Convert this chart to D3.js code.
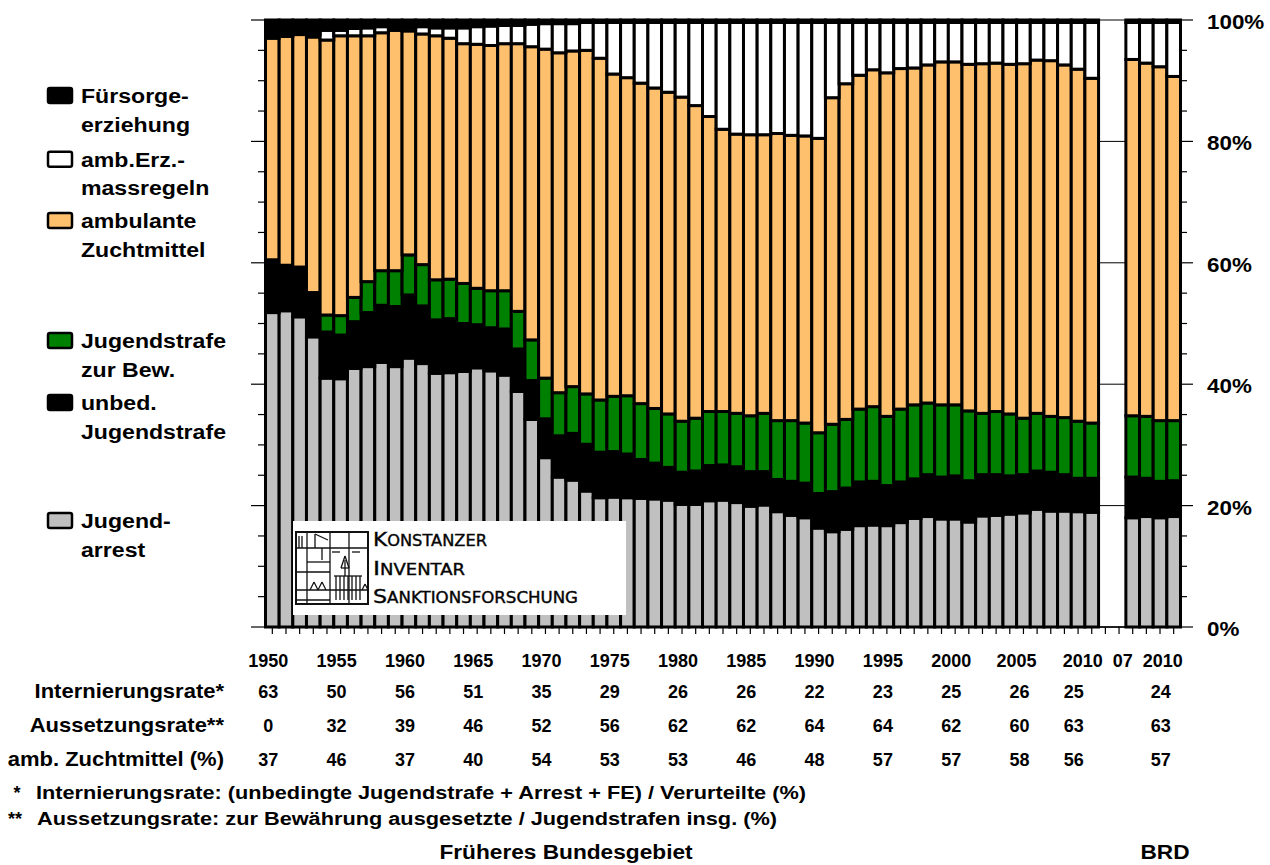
<!DOCTYPE html>
<html><head><meta charset="utf-8">
<script src="https://cdn.jsdelivr.net/npm/d3@7"></script>
<style>
body{margin:0;background:#fff}
svg{display:block}
text{font-family:"Liberation Sans",Arial,Helvetica,sans-serif;font-weight:bold;fill:#000}
</style>
</head><body>
<svg id="c" width="1270" height="865"></svg>
<script>
// ---------- DATA ----------
const yearsFB = ["1950","1951","1952","1953","1954","1955","1956","1957","1958","1959",
  "1960","1961","1962","1963","1964","1965","1966","1967","1968","1969",
  "1970","1971","1972","1973","1974","1975","1976","1977","1978","1979",
  "1980","1981","1982","1983","1984","1985","1986","1987","1988","1989",
  "1990","1991","1992","1993","1994","1995","1996","1997","1998","1999",
  "2000","2001","2002","2003","2004","2005","2006","2007","2008","2009","2010"];
const yearsBRD = ["2007","2008","2009","2010"];

// shares in % (bottom to top)
const jugendarrest = [51.8,52.1,51.1,47.8,41.0,40.9,42.6,42.9,43.6,42.9,
  44.3,43.4,41.8,41.9,42.1,42.7,42.2,41.5,38.8,34.2,
  27.9,24.7,24.2,22.4,21.3,21.4,21.3,21.2,21.1,20.9,
  20.2,20.2,20.8,20.9,20.5,19.9,20.1,19.0,18.4,18.0,
  16.3,15.7,16.1,16.7,16.8,16.7,17.2,17.9,18.2,17.8,
  17.8,17.3,18.3,18.4,18.6,18.8,19.4,19.1,19.1,19.0,18.9,
  18.0,18.2,18.0,18.2];
const unbedJugendstrafe = [8.7,7.5,8.2,7.3,7.6,7.2,7.7,8.9,9.4,9.9,
  10.4,9.5,8.8,8.9,7.9,7.1,7.1,7.6,7.0,6.4,
  6.4,6.8,7.7,7.7,7.5,7.5,7.2,6.4,5.9,5.4,
  5.3,5.5,5.8,5.8,5.9,5.7,5.5,5.3,5.6,5.7,
  5.7,6.6,6.8,7.2,7.2,6.6,6.7,6.5,6.9,6.9,
  7.1,6.8,6.8,6.7,6.3,6.3,6.3,6.4,6.0,5.5,5.6,
  6.7,6.3,6.0,5.9];
const jugendstrafeBew = [0,0,0,0,2.8,3.2,4.0,5.1,5.7,5.9,
  6.6,6.8,6.6,6.5,6.6,6.0,6.1,6.3,6.2,6.7,
  6.7,7.1,7.7,8.3,8.6,9.1,9.6,9.2,9.0,8.8,
  8.4,8.7,8.9,8.8,8.8,9.2,9.6,9.7,10.0,9.9,
  10.0,11.1,11.3,12.0,12.3,11.4,12.0,12.2,11.8,11.9,
  11.7,11.5,10.1,10.4,10.2,9.3,9.5,9.2,9.4,9.4,9.1,
  10.1,10.2,10.0,9.9];
const ambZuchtmittel = [36.5,37.7,38.3,42.1,45.3,46.1,43.1,40.5,39.2,39.6,
  36.9,38.0,40.2,39.7,39.5,40.2,40.4,40.7,44.1,48.3,
  54.2,56.0,55.3,56.6,56.3,53.1,52.4,52.8,52.8,53.0,
  53.4,51.5,48.6,46.5,46.0,46.3,45.9,47.3,47.0,47.3,
  48.5,53.8,55.3,55.0,55.5,56.6,56.1,55.5,55.7,56.5,
  56.5,57.1,57.6,57.4,57.6,58.4,58.2,58.6,58.1,58.0,56.8,
  58.7,58.2,58.3,56.7];
const ambErzMassregeln = [0,0,0,0.4,1.6,0.9,1.2,1.3,1.0,0.5,
  0.5,1.2,1.3,1.7,2.6,2.9,3.2,3.0,3.0,3.7,
  4.2,4.8,4.5,4.6,5.9,8.5,9.1,10.0,10.8,11.5,
  12.3,13.7,15.5,17.6,18.4,18.5,18.5,18.3,18.6,18.7,
  19.1,12.4,10.1,8.7,7.8,8.3,7.6,7.5,7.0,6.5,
  6.5,6.9,6.8,6.7,6.9,6.8,6.2,6.3,7.0,7.7,9.2,
  6.1,6.7,7.3,8.9];
const fuersorgeerziehung = [3.0,2.7,2.4,2.4,1.7,1.7,1.4,1.3,1.1,1.2,
  1.3,1.1,1.3,1.3,1.3,1.1,1.0,0.9,0.9,0.7,
  0.6,0.6,0.6,0.4,0.4,0.4,0.4,0.4,0.4,0.4,
  0.4,0.4,0.4,0.4,0.4,0.4,0.4,0.4,0.4,0.4,
  0.4,0.4,0.4,0.4,0.4,0.4,0.4,0.4,0.4,0.4,
  0.4,0.4,0.4,0.4,0.4,0.4,0.4,0.4,0.4,0.4,0.4,
  0.4,0.4,0.4,0.4];

const seriesNames = ["Jugend-\narrest","unbed.\nJugendstrafe","Jugendstrafe\nzur Bew.","ambulante\nZuchtmittel","amb.Erz.-\nmassregeln","Fürsorge-\nerziehung"];
const seriesColors = ["#C0C0C0","#000000","#008000","#FFC06E","#FFFFFF","#000000"];

// table below the chart
const tableYears = ["1950","1955","1960","1965","1970","1975","1980","1985","1990","1995","2000","2005","2010","BRD2010"];
const internierungsrate = [63,50,56,51,35,29,26,26,22,23,25,26,25,24];
const aussetzungsrate = [0,32,39,46,52,56,62,62,64,64,62,60,63,63];
const ambZuchtRate = [37,46,37,40,54,53,53,46,48,57,57,58,56,57];
const rowLabels = ["Internierungsrate*","Aussetzungsrate**","amb. Zuchtmittel (%)"];
const yearLabelKeys = ["1950","1955","1960","1965","1970","1975","1980","1985","1990","1995","2000","2005","2010","BRD2007","BRD2010"];
const yearLabelText = ["1950","1955","1960","1965","1970","1975","1980","1985","1990","1995","2000","2005","2010","07","2010"];
const yTicks = [0,20,40,60,80,100];

// ---------- BUILD ----------
const keys = ["arrest","unbed","bew","amb","erz","fe"];
const cols = [jugendarrest,unbedJugendstrafe,jugendstrafeBew,ambZuchtmittel,ambErzMassregeln,fuersorgeerziehung];
const catKeys = yearsFB.concat(yearsBRD.map(y=>"BRD"+y));
const rows = catKeys.map((k,i)=>{const o={key:k};keys.forEach((s,j)=>o[s]=cols[j][i]);return o;});
const domain = yearsFB.concat(["gap1","gap2"], yearsBRD.map(y=>"BRD"+y));

const svg = d3.select("#c");
const x = d3.scaleBand().domain(domain).range([265.5,1180.5]).padding(0);
const y = d3.scaleLinear().domain([0,100]).range([627,20]);

function T(parent,px,py,s,size,anchor,sx){
  return parent.append("text")
    .attr("transform",`translate(${px},${py}) scale(${sx==null?1.1:sx},1)`)
    .attr("font-size",size).attr("text-anchor",anchor||"start").text(s);
}

// gridlines (visible only in the gap)
svg.append("g").selectAll("line").data(yTicks).join("line")
  .attr("x1",265.5).attr("x2",1180.5).attr("y1",d=>y(d)).attr("y2",d=>y(d))
  .attr("stroke","#000").attr("stroke-width",1);

// bars
const stacked = d3.stack().keys(keys)(rows);
svg.append("g").selectAll("g").data(stacked).join("g")
  .attr("fill",(d,i)=>seriesColors[i])
  .selectAll("rect").data(d=>d).join("rect")
  .attr("x",d=>x(d.data.key)).attr("width",x.bandwidth())
  .attr("y",d=>y(d[1])).attr("height",d=>Math.max(0,y(d[0])-y(d[1])))
  .attr("stroke","#000").attr("stroke-width",3);

// axis lines
svg.append("line").attr("x1",1180.5).attr("x2",1180.5).attr("y1",20).attr("y2",627).attr("stroke","#000").attr("stroke-width",2);
svg.append("line").attr("x1",265.5).attr("x2",1180.5).attr("y1",627).attr("y2",627).attr("stroke","#000").attr("stroke-width",1.5);

// ticks
const minor = d3.range(0,101,5);
const tk = svg.append("g").attr("stroke","#000").attr("stroke-width",1.2);
tk.selectAll(".l").data(minor).join("line").attr("class","l")
  .attr("x1",d=>d%20===0?251:258).attr("x2",265).attr("y1",d=>y(d)).attr("y2",d=>y(d));
tk.selectAll(".r").data(minor).join("line").attr("class","r")
  .attr("x1",1181).attr("x2",d=>d%20===0?1193:1187).attr("y1",d=>y(d)).attr("y2",d=>y(d));
tk.selectAll(".b").data(domain).join("line").attr("class","b")
  .attr("x1",d=>x(d)+x.bandwidth()/2).attr("x2",d=>x(d)+x.bandwidth()/2).attr("y1",627).attr("y2",634);

// y labels
yTicks.forEach(v=>T(svg,1207,y(v)+9,v+"%",20,"start",1.12));

// year labels (slight leftward drift toward the right end, as in the original)
const labShift = {"2005":-3,"2010":-5,"BRD2007":-6,"BRD2010":-7};
const lab = d=>x(d)+x.bandwidth()/2-4+(labShift[d]||0);
yearLabelKeys.forEach((k,i)=>T(svg,lab(k),667,yearLabelText[i],18,"middle",1.0));

// table
const valShift = {"2005":3,"2010":-9,"BRD2010":-2};
const rowY = [697.5,731.5,765.5];
rowLabels.forEach((s,i)=>T(svg,224,rowY[i],s,20,"end",1.1));
[internierungsrate,aussetzungsrate,ambZuchtRate].forEach((arr,r)=>{
  arr.forEach((v,i)=>{
    const k = tableYears[i];
    T(svg,lab(k)+(valShift[k]||0),rowY[r],String(v),18,"middle",1.0);
  });
});

// footnotes
T(svg,17,799,"*",18,"middle",1.0);
T(svg,15,825,"**",18,"middle",1.0);
svg.append("text").attr("x",36).attr("y",799).attr("font-size",18)
  .attr("textLength",770).attr("lengthAdjust","spacingAndGlyphs")
  .text("Internierungsrate: (unbedingte Jugendstrafe + Arrest + FE) / Verurteilte (%)");
svg.append("text").attr("x",37).attr("y",825).attr("font-size",18)
  .attr("textLength",740).attr("lengthAdjust","spacingAndGlyphs")
  .text("Aussetzungsrate: zur Bewährung ausgesetzte / Jugendstrafen insg. (%)");

// bottom titles
T(svg,566,859,"Früheres Bundesgebiet",21,"middle",1.08);
T(svg,1165,859,"BRD",21,"middle",1.08);

// legend
const legTop = [513,395,333,213,151.7,88];
seriesNames.forEach((s,i)=>{
  const top = legTop[i];
  svg.append("rect").attr("x",48).attr("y",top).attr("width",24).attr("height",15).attr("rx",2)
    .attr("fill",seriesColors[i]).attr("stroke","#000").attr("stroke-width",2.5);
  s.split("\n").forEach((line,j)=>T(svg,81,top+15+j*28.7,line,21,"start",1.1));
});

// logo box
const lg = svg.append("g");
lg.append("rect").attr("x",293).attr("y",521).attr("width",333).attr("height",94).attr("fill","#fff");
const ls = lg.append("g").attr("stroke","#111").attr("fill","none").attr("stroke-width",1.3);
ls.append("rect").attr("x",296).attr("y",532).attr("width",72).attr("height",72).attr("stroke-width",2);
[[296,548,368,548],[296,590,368,590],[307,532,307,604],[330,532,330,604],[349,532,349,604],[296,572,330,572],
 [299,536,299,548],[302,536,302,548],[315,534,315,548],[315,534,328,540],[322,548,322,560],[307,562,330,562],
 [336,600,336,576],[340,600,340,576],[344,600,344,576],[348,600,348,576],[352,600,352,576],[356,600,356,576],[360,600,360,576],[334,576,362,576],
 [345,576,345,560],[341,568,349,568],[345,556,341,568],[345,556,349,568],
 [310,590,314,582],[314,582,318,590],[318,590,322,582],[322,582,326,590],[362,590,365,584],[365,584,368,590],
 [296,600,330,600],[332,552,340,552],[352,552,360,552]].forEach(p=>ls.append("line").attr("x1",p[0]).attr("y1",p[1]).attr("x2",p[2]).attr("y2",p[3]));
const logoText = [["K","ONSTANZER",546,114],["I","NVENTAR",575,92],["S","ANKTIONSFORSCHUNG",603,205]];
logoText.forEach(t=>{
  const tx = lg.append("text").attr("x",373).attr("y",t[2]).attr("textLength",t[3]).attr("lengthAdjust","spacingAndGlyphs")
    .style("font-family","'DejaVu Sans',sans-serif").style("font-weight","normal").attr("fill","#111")
    .attr("stroke","#111").attr("stroke-width",0.4);
  tx.append("tspan").attr("font-size",20).text(t[0]);
  tx.append("tspan").attr("font-size",15).text(t[1]);
});
</script>
</body></html>
